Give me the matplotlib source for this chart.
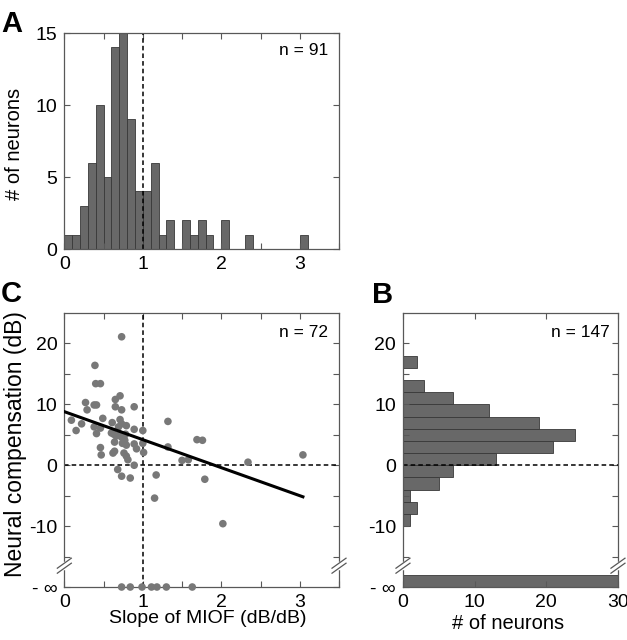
import numpy as np
import matplotlib
matplotlib.use('Agg')
import matplotlib.pyplot as plt

plt.rcParams['font.family'] = ['Liberation Sans', 'DejaVu Sans']

# panel A: histogram of MIOF slopes (bins of 0.1 starting at 0)
a_bin_width = 0.1
a_counts = [1, 1, 3, 6, 10, 5, 14, 15, 9, 4, 4, 6, 1, 2, 0, 2, 1, 2, 1, 0,
            2, 0, 0, 1, 0, 0, 0, 0, 0, 0, 1]
a_n_label = 'n = 91'

# panel C: slope vs neural compensation
c_slope = [0.73, 0.39, 0.40, 0.46, 0.27, 0.65, 0.71, 0.38, 0.41, 0.29,
           0.65, 0.73, 0.89, 0.09, 0.22, 0.15, 0.49, 0.38, 0.41, 0.46,
           0.47, 0.61, 0.71, 0.73, 0.69, 0.79, 0.89, 0.60, 0.63, 0.66,
           0.71, 0.76, 0.64, 0.77, 0.79, 0.74, 0.62, 0.64, 0.76, 0.79,
           0.81, 0.89, 0.92, 0.89, 0.68, 0.73, 0.84, 1.00, 1.00, 1.01,
           1.32, 1.32, 1.50, 1.58, 1.69, 1.76, 1.17, 1.15, 1.79, 2.02,
           2.34, 3.04, 0.46, 0.78, 0.73]
c_comp = [21.1, 16.4, 13.4, 13.4, 10.3, 10.8, 11.4, 9.9, 9.9, 9.1,
          9.6, 9.1, 9.6, 7.4, 6.8, 5.7, 7.7, 6.3, 5.2, 2.9,
          1.7, 7.0, 7.5, 6.8, 6.3, 6.5, 5.9, 5.3, 5.1, 4.8,
          5.1, 4.8, 3.8, 4.1, 3.3, 3.6, 2.0, 2.3, 2.0, 1.5,
          0.9, 3.5, 2.7, 0.0, -0.7, -1.8, -2.1, 5.7, 3.6, 2.1,
          7.2, 3.0, 0.8, 0.9, 4.2, 4.1, -1.6, -5.4, -2.3, -9.6,
          0.5, 1.7, 6.1, 5.1, 4.6]
c_slope_neg_inf = [0.73, 0.84, 0.99, 1.11, 1.18, 1.30, 1.63]
c_fit_intercept = 8.8
c_fit_slope = -4.6
c_n_label = 'n = 72'

# panel B: histogram of neural compensation (bins of 2 dB)
b_bin_height = 2
b_bin_low = [-10, -8, -6, -4, -2, 0, 2, 4, 6, 8, 10, 12, 14, 16]
b_counts = [1, 2, 1, 5, 7, 13, 21, 24, 19, 12, 7, 3, 0, 2]
b_neg_inf_count = 30
b_n_label = 'n = 147'

NEG_INF = -20  # where -inf is drawn on the compensation axis
BREAK_Y = -16.5

bar_color = '#686868'
bar_edge = '#383838'
dot_color = '#787878'
spine_color = '#585858'
tick_size = 14


def style_axes(ax):
    for s in ax.spines.values():
        s.set_color(spine_color)
        s.set_linewidth(0.9)
    ax.tick_params(direction='in', length=4, width=0.8, color=spine_color,
                   top=True, right=True, labelsize=tick_size, pad=5)


def comp_ticks(ax):
    ticks = [-20, -15, -10, -5, 0, 5, 10, 15, 20]
    labels = ['- \u221e', '', '-10', '', '0', '', '10', '', '20']
    ax.set_yticks(ticks)
    ax.set_yticklabels(labels)
    ax.set_ylim(-20, 25)


def add_break(ax, y):
    # "//" marks on both vertical spines
    y0, y1 = ax.get_ylim()
    yf = (y - y0) / (y1 - y0)
    bb = ax.get_position()
    fig = ax.figure
    w = bb.width * fig.get_figwidth() * fig.dpi
    h = bb.height * fig.get_figheight() * fig.dpi
    dx, dy, gap = 7.0 / w, 5.0 / h, 2.5 / h
    for xf in (0, 1):
        ax.plot([xf, xf], [yf - gap, yf + gap], transform=ax.transAxes,
                color='white', lw=2.5, clip_on=False, zorder=5)
        for off in (-gap, gap):
            ax.plot([xf - dx, xf + dx], [yf + off - dy, yf + off + dy],
                    transform=ax.transAxes, color=spine_color, lw=0.9,
                    clip_on=False, zorder=6)


def n_text(ax, label):
    ax.text(0.96, 0.955, label, transform=ax.transAxes, ha='right', va='top',
            fontsize=12.5)


def plot_panel_a(ax):
    left = np.arange(len(a_counts)) * a_bin_width
    ax.bar(left, a_counts, width=a_bin_width, align='edge', color=bar_color,
           edgecolor=bar_edge, linewidth=0.6)
    ax.axvline(1, color='k', ls=(0, (3, 2)), lw=1.1)
    ax.set_xlim(0, 3.5)
    ax.set_ylim(0, 15)
    ax.set_xticks(np.arange(0, 3.51, 0.5))
    ax.set_xticklabels(['0', '', '1', '', '2', '', '3', ''])
    ax.set_yticks([0, 5, 10, 15])
    style_axes(ax)
    ax.set_ylabel('# of neurons', fontsize=14.5, va='center')
    ax.yaxis.set_label_coords(-0.183, 0.486)
    n_text(ax, a_n_label)


def plot_panel_c(ax):
    ax.scatter(c_slope, c_comp, s=30, color=dot_color, edgecolors='none',
               zorder=3)
    ax.scatter(c_slope_neg_inf, [NEG_INF] * len(c_slope_neg_inf), s=30,
               color=dot_color, edgecolors='none', zorder=4, clip_on=False)
    xfit = np.array([0, max(c_slope)])
    ax.plot(xfit, c_fit_intercept + c_fit_slope * xfit, color='k', lw=2.2,
            zorder=4)
    ax.axvline(1, color='k', ls=(0, (3, 2)), lw=1.1, zorder=2)
    ax.axhline(0, color='k', ls=(0, (3, 2)), lw=1.1, zorder=2)
    ax.set_xlim(0, 3.5)
    ax.set_xticks(np.arange(0, 3.51, 0.5))
    ax.set_xticklabels(['0', '', '1', '', '2', '', '3', ''])
    comp_ticks(ax)
    style_axes(ax)
    ax.set_xlabel('Slope of MIOF (dB/dB)', fontsize=14)
    ax.xaxis.set_label_coords(0.521, -0.085)
    ax.set_ylabel('Neural compensation (dB)', fontsize=16.5, va='center')
    ax.yaxis.set_label_coords(-0.176, 0.52)
    n_text(ax, c_n_label)
    add_break(ax, BREAK_Y)


def plot_panel_b(ax):
    ax.barh(b_bin_low, b_counts, height=b_bin_height, align='edge',
            color=bar_color, edgecolor=bar_edge, linewidth=0.6)
    ax.barh(NEG_INF, b_neg_inf_count, height=b_bin_height, align='edge',
            color=bar_color, edgecolor=bar_edge, linewidth=0.6)
    ax.axhline(0, color='k', ls=(0, (3, 2)), lw=1.1)
    ax.set_xlim(0, 30)
    ax.set_xticks([0, 10, 20, 30])
    comp_ticks(ax)
    style_axes(ax)
    ax.set_xlabel('# of neurons', fontsize=14.5)
    ax.xaxis.set_label_coords(0.488, -0.097)
    n_text(ax, b_n_label)
    add_break(ax, BREAK_Y)


def main():
    fig = plt.figure(figsize=(6.27, 6.4), dpi=100)
    ax_a = fig.add_axes([0.1026, 0.6109, 0.4381, 0.3375])
    ax_c = fig.add_axes([0.1026, 0.0828, 0.4381, 0.4281])
    ax_b = fig.add_axes([0.6427, 0.0828, 0.3429, 0.4281])
    plot_panel_a(ax_a)
    plot_panel_c(ax_c)
    plot_panel_b(ax_b)
    for x, y, letter in [(1, 10, 'A'), (1, 280, 'C'), (372, 281, 'B')]:
        fig.text(x / 627, 1 - y / 640, letter, fontsize=21, fontweight='bold',
                 ha='left', va='top')
    fig.savefig('out.png', dpi=100)


if __name__ == '__main__':
    main()
